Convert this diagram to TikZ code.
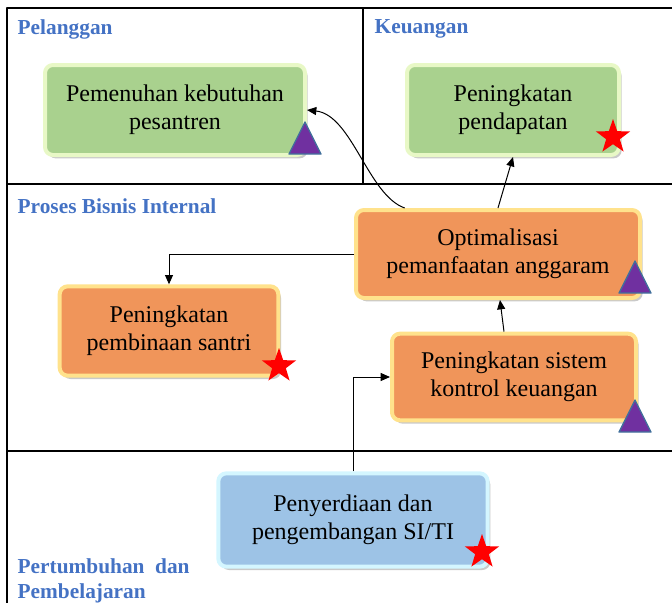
\documentclass[tikz,border=0pt]{standalone}
\usepackage{fontspec}
\setmainfont{Liberation Serif}
\usepackage{xcolor}
\usetikzlibrary{arrows.meta,calc,shadows,shapes.geometric}

\definecolor{perspblue}{HTML}{4472C4}
\definecolor{goalgreen}{HTML}{A9D18E}
\definecolor{glowgreen}{HTML}{E8F8C6}
\definecolor{goalorange}{HTML}{F0955A}
\definecolor{gloworange}{HTML}{FFE28C}
\definecolor{goalblue}{HTML}{9DC3E6}
\definecolor{glowblue}{HTML}{D4F6FF}
\definecolor{tripurple}{HTML}{7030A0}
\definecolor{triedge}{HTML}{41719C}

\begin{document}
\begin{tikzpicture}[x=0.75pt,y=-0.75pt,>={Triangle[length=7pt,width=6pt]},line join=round,
  frame/.style={line width=1.1pt},
  persp/.style={anchor=west,align=left,text=perspblue,font=\fontsize{16}{19}\selectfont\bfseries},
  goal/.style={rectangle,rounded corners=6pt,line width=3pt,align=center,inner sep=0pt,
    font=\fontsize{18}{21}\selectfont,
    drop shadow={shadow xshift=2pt,shadow yshift=-2.5pt,opacity=0.3,fill=black!70}},
  custgoal/.style={goal,fill=goalgreen,draw=glowgreen},
  procgoal/.style={goal,fill=goalorange,draw=gloworange},
  learngoal/.style={goal,fill=goalblue,draw=glowblue},
  link/.style={->,line width=0.75pt},
  starmark/.style={star,star points=5,star point ratio=2.5,fill=red,draw=none,inner sep=0pt,minimum size=27pt},
  trimark/.style={fill=tripurple,draw=triedge,line width=1pt}]
  \useasboundingbox (0,0) rectangle (672,603);

  % frame
  \draw[frame] (7,603) -- (7,8) -- (672,8);
  \draw[frame] (7,184) -- (672,184);
  \draw[frame] (7,451) -- (672,451);
  \draw[frame] (363,8) -- (363,184);

  % perspectives
  \node[persp] (pel) at (13,29) {Pelanggan};
  \node[persp] (keu) at (370,29) {Keuangan};
  \node[persp] (pbi) at (13,206) {Proses Bisnis Internal};
  \node[persp] (pdp) at (13,581) {Pertumbuhan\ \ dan\\Pembelajaran};

  % goals
  \node[custgoal,minimum width=195pt,minimum height=67.5pt] (pem) at (175,110) {Pemenuhan kebutuhan\\pesantren};
  \node[custgoal,minimum width=159pt,minimum height=67.5pt] (pend) at (513,110) {Peningkatan\\pendapatan};
  \node[procgoal,minimum width=213pt,minimum height=66pt] (opt) at (498,254) {Optimalisasi\\pemanfaatan anggaram};
  \node[procgoal,minimum width=164pt,minimum height=67pt] (pemb) at (169,331) {Peningkatan\\pembinaan santri};
  \node[procgoal,minimum width=183pt,minimum height=65pt] (sis) at (514,377) {Peningkatan sistem\\kontrol keuangan};
  \node[learngoal,minimum width=202pt,minimum height=70pt] (siti) at (353,520) {Penyerdiaan dan\\pengembangan SI/TI};

  % links
  \draw[link] ([xshift=38pt]opt.north west) .. controls (368,195) and (352,115) .. (pem.east);
  \draw[link] (opt.north) -- (pend.south);
  \draw[link] (opt.west) -| (pemb.north);
  \draw[link] ([xshift=-7.5pt]sis.north) -- ([xshift=1.5pt]opt.south);
  \draw[link] (siti.north) |- (sis.west);

  % marks
  \foreach \bx/\by in {305/154,635/293,635/432}
    \filldraw[trimark] (\bx,\by) -- ++(-16,0) -- ++(16,-32) -- ++(16,32) -- cycle;
  \node[starmark] (st1) at (613,137) {};
  \node[starmark] (st2) at (279,366) {};
  \node[starmark] (st3) at (482,552) {};
\end{tikzpicture}
\end{document}
